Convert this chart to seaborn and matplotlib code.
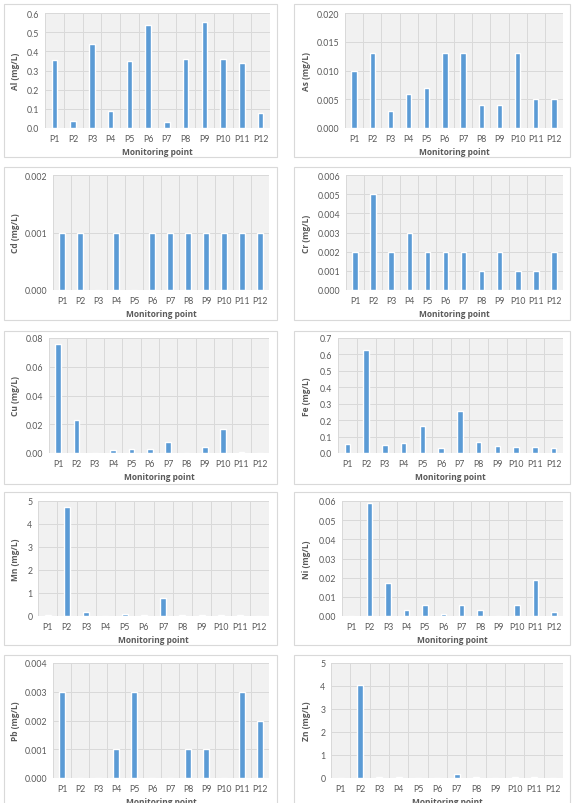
import matplotlib
matplotlib.use("Agg")
import matplotlib.pyplot as plt
from matplotlib.patches import Rectangle
from matplotlib.ticker import FormatStrFormatter, MultipleLocator, FixedLocator
import seaborn as sns
import pandas as pd
import numpy as np

sns.set_theme(style="white")
plt.rcParams['font.family'] = ['Lato', 'DejaVu Sans']

points = [f"P{i}" for i in range(1, 13)]

al = [0.355, 0.038, 0.437, 0.090, 0.352, 0.535, 0.032, 0.358, 0.555, 0.358, 0.340, 0.080]
as_ = [0.010, 0.013, 0.003, 0.006, 0.007, 0.013, 0.013, 0.004, 0.004, 0.013, 0.005, 0.005]
cd = [0.001, 0.001, 0.0, 0.001, 0.0, 0.001, 0.001, 0.001, 0.001, 0.001, 0.001, 0.001]
cr = [0.002, 0.005, 0.002, 0.003, 0.002, 0.002, 0.002, 0.001, 0.002, 0.001, 0.001, 0.002]
cu = [0.076, 0.023, 0.0, 0.002, 0.003, 0.003, 0.008, 0.0, 0.004, 0.017, 0.001, 0.0]
fe = [0.055, 0.630, 0.048, 0.058, 0.163, 0.028, 0.255, 0.068, 0.042, 0.035, 0.035, 0.032]
mn = [0.05, 4.73, 0.17, 0.0, 0.07, 0.03, 0.78, 0.04, 0.03, 0.03, 0.05, 0.0]
ni = [0.0, 0.059, 0.017, 0.003, 0.006, 0.001, 0.006, 0.003, 0.0, 0.006, 0.019, 0.002]
pb = [0.003, 0.0, 0.0, 0.001, 0.003, 0.0, 0.0, 0.001, 0.001, 0.0, 0.003, 0.002]
zn = [0.0, 4.05, 0.04, 0.03, 0.0, 0.0, 0.18, 0.03, 0.0, 0.03, 0.04, 0.0]

ylabels = ["Al (mg/L)", "As (mg/L)", "Cd (mg/L)", "Cr (mg/L)", "Cu (mg/L)",
           "Fe (mg/L)", "Mn (mg/L)", "Ni (mg/L)", "Pb (mg/L)", "Zn (mg/L)"]
series = [al, as_, cd, cr, cu, fe, mn, ni, pb, zn]
ymax = [0.6, 0.02, 0.002, 0.006, 0.08, 0.7, 5, 0.06, 0.004, 5]
ystep = [0.1, 0.005, 0.001, 0.001, 0.02, 0.1, 1, 0.01, 0.001, 1]
yfmt = ["%.1f", "%.3f", "%.3f", "%.3f", "%.2f", "%.1f", "%.0f", "%.2f", "%.3f", "%.0f"]

W, H = 576, 804
fig = plt.figure(figsize=(W / 100, H / 100), dpi=100)
fig.patch.set_facecolor("white")

# plot-area pixel boxes (x0, y0, x1, y1)
areas = [(45, 14, 270, 129), (345, 14, 563, 129),
         (53, 176, 269, 291), (346, 176, 563, 291),
         (49, 339, 269, 454), (338, 339, 563, 454),
         (38, 502, 269, 617), (342, 502, 563, 617),
         (53, 664, 269, 779), (331, 664, 563, 779)]
box_tops = [5, 168, 332, 493, 656]

TXT = "#595959"
GRID = "#d9d9d9"
BAR = "#5b9bd5"
LABEL_FONT = ['Open Sans', 'DejaVu Sans']

# chart borders
for r, top in enumerate(box_tops):
    for (bx0, bx1) in [(4, 277), (294, 570)]:
        fig.patches.append(Rectangle((bx0 / W, 1 - (top + 153) / H), (bx1 - bx0) / W, 153 / H,
                                     transform=fig.transFigure, fill=False,
                                     edgecolor="#d9d9d9", linewidth=0.8, zorder=0))

for i, (vals, lab) in enumerate(zip(series, ylabels)):
    x0, y0, x1, y1 = areas[i]
    ax = fig.add_axes([x0 / W, 1 - y1 / H, (x1 - x0) / W, (y1 - y0) / H])
    ax.set_facecolor("#f1f1f1")
    df = pd.DataFrame({"point": points, "value": vals})
    sns.barplot(data=df, x="point", y="value", color=BAR, saturation=1,
                width=0.3, ax=ax, zorder=3)
    ax.set_xlim(-0.5, 11.5)
    ax.set_ylim(0, ymax[i])
    ax.yaxis.set_major_locator(MultipleLocator(ystep[i]))
    ax.yaxis.set_major_formatter(FormatStrFormatter(yfmt[i]))
    ax.xaxis.set_minor_locator(FixedLocator(np.arange(-0.5, 12, 1)))
    ax.grid(axis="y", which="major", color=GRID, linewidth=0.7, zorder=0)
    ax.grid(axis="x", which="minor", color=GRID, linewidth=0.7, zorder=0)
    ax.grid(axis="x", which="major", visible=False)
    for s in ax.spines.values():
        s.set_visible(False)
    ax.tick_params(axis="both", which="both", length=0, labelsize=6.3,
                   labelcolor=TXT, pad=4)
    ax.set_xlabel("Monitoring point", fontsize=6.0, fontweight="bold", color=TXT,
                  labelpad=3, family=LABEL_FONT)
    ax.set_ylabel(lab, fontsize=6.0, fontweight="bold", color=TXT, family=LABEL_FONT)
    lx = 20 if i % 2 == 0 else 311
    ax.yaxis.set_label_coords(lx / W, 1 - ((y0 + y1) / 2) / H, transform=fig.transFigure)

fig.savefig("out.png", dpi=100, facecolor="white")
